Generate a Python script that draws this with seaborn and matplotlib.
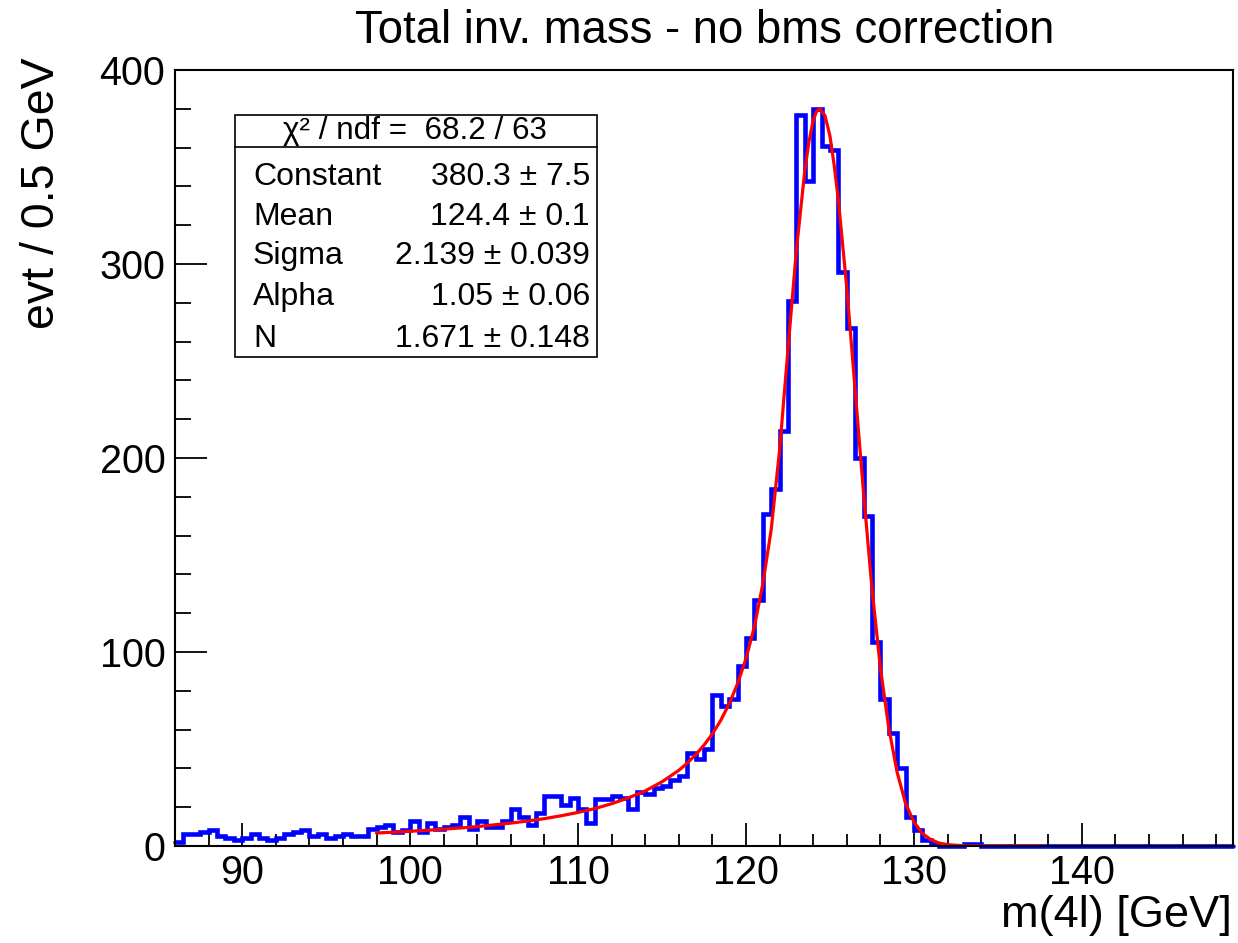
import numpy as np
import pandas as pd
import matplotlib
matplotlib.use("Agg")
import matplotlib.pyplot as plt
from matplotlib.ticker import MultipleLocator
from matplotlib.patches import Rectangle
from matplotlib.lines import Line2D
import seaborn as sns

# ---------------- data ----------------
hist_low = 86.0
hist_high = 149.0
bin_width = 0.5

counts = [
    2, 6, 6, 7, 8, 5, 4, 3, 4, 6,
    4, 3, 4, 6, 7, 8, 5, 6, 4, 5,
    6, 5, 5, 9, 10, 11, 7, 8, 13, 7,
    12, 9, 10, 11, 15, 9, 13, 10, 10, 13,
    19, 15, 11, 17, 26, 26, 21, 25, 19, 12,
    24, 24, 26, 25, 19, 28, 27, 30, 31, 34,
    36, 48, 45, 50, 78, 72, 76, 93, 107, 127,
    171, 184, 214, 281, 377, 343, 380, 361, 359, 296,
    267, 200, 170, 105, 76, 58, 40, 15, 8, 3,
    1, 0, 0, 0, 1, 1, 0, 0, 0, 0,
    0, 0, 0, 0, 0, 0, 0, 0, 0, 0,
    0, 0, 0, 0, 0, 0, 0, 0, 0, 0,
    0, 0, 0, 0, 0, 0,
]

fit_x = [98, 99, 100, 101, 102, 103, 104, 105, 106, 107, 108, 109, 110, 111,
         112, 113, 114, 115, 116, 116.5, 117, 117.5, 118, 118.5, 119, 119.5,
         120, 120.5, 121, 121.5, 122, 122.5, 123, 123.5, 123.75, 124, 124.2,
         124.4, 124.7, 125, 125.25, 125.5, 126, 126.5, 127, 127.5, 128, 128.5,
         129, 129.5, 130, 130.5, 131, 131.5, 132, 133, 134, 136, 137.7]
fit_y = [6.7, 7.1, 7.6, 8.1, 8.7, 9.3, 10.0, 10.9, 11.8, 12.9, 14.1, 15.6, 17.3, 19.3,
         21.8, 24.8, 28.4, 33.1, 39.0, 42.7, 47.0, 52.0, 57.8, 64.8, 73.3, 83.7,
         96.6, 113, 135, 163, 204, 256, 307, 348, 363, 374, 378.6,
         380, 376.6, 366, 351, 333, 288, 235, 182, 133, 92, 61,
         38, 22, 12.4, 6.5, 3.3, 1.5, 0.7, 0.1, 0, 0, 0]

title_text = "Total inv. mass - no bms correction"
x_title = "m(4l) [GeV]"
y_title = "evt / 0.5 GeV"

stats_header = "χ² / ndf =  68.2 / 63"
stat_names = ["Constant", "Mean", "Sigma", "Alpha", "N"]
stat_values = ["380.3 ± 7.5", "124.4 ± 0.1", "2.139 ± 0.039", "1.05 ± 0.06", "1.671 ± 0.148"]

# ---------------- style ----------------
sns.set_style("white")
plt.rcParams["font.family"] = ["Liberation Sans", "DejaVu Sans"]
plt.rcParams["text.color"] = "black"
plt.rcParams["axes.labelcolor"] = "black"
plt.rcParams["xtick.color"] = "black"
plt.rcParams["ytick.color"] = "black"

W, H = 1238, 943
fig = plt.figure(figsize=(W / 100, H / 100), dpi=100)
fig.patch.set_facecolor("white")

L, R, T, B = 175, 1233, 70, 846
ax = fig.add_axes([L / W, 1 - B / H, (R - L) / W, (B - T) / H])
ax.set_facecolor("white")

n_bins = len(counts)
centers = hist_low + bin_width * (np.arange(n_bins) + 0.5)
df = pd.DataFrame({"mass": centers, "evt": np.asarray(counts, dtype=float)})

sns.histplot(data=df, x="mass", weights="evt", binwidth=bin_width,
             binrange=(hist_low, hist_high), element="step",
             fill=False, color=(0, 0, 1), linewidth=3.3, ax=ax)
for ln in ax.lines:
    ln.set_clip_on(False)
    ln.set_solid_joinstyle("miter")

fit_df = pd.DataFrame({"x": fit_x, "y": fit_y})
sns.lineplot(data=fit_df, x="x", y="y", color=(1, 0, 0), linewidth=2.3, ax=ax,
             sort=False)

ax.set_xlim(hist_low, hist_high)
ax.set_ylim(0, 400)
ax.set_xlabel("")
ax.set_ylabel("")

ax.xaxis.set_major_locator(MultipleLocator(10))
ax.xaxis.set_minor_locator(MultipleLocator(2))
ax.yaxis.set_major_locator(MultipleLocator(100))
ax.yaxis.set_minor_locator(MultipleLocator(20))

ax.tick_params(axis="x", which="major", direction="in", length=16.5, width=1.3,
               labelsize=28.5, pad=6, top=False, bottom=True, colors="black")
ax.tick_params(axis="x", which="minor", direction="in", length=8.3, width=1.3,
               top=False, bottom=True, colors="black")
ax.tick_params(axis="y", which="major", direction="in", length=23, width=1.3,
               labelsize=28.5, pad=7, left=True, right=False, colors="black")
ax.tick_params(axis="y", which="minor", direction="in", length=11.5, width=1.3,
               left=True, right=False, colors="black")

for s in ax.spines.values():
    s.set_visible(True)
    s.set_color("black")
    s.set_linewidth(1.5)
    s.set_zorder(3)

# titles
fig.text(705 / W, 1 - 31 / H, title_text, ha="center", va="center", fontsize=32.8,
         color="black")
fig.text(1232 / W, 1 - 915 / H, x_title, ha="right", va="center", fontsize=32.5,
         color="black")
fig.text(42 / W, 1 - 57 / H, y_title, ha="center", va="top", rotation=90,
         fontsize=33.5, color="black")

# stats box
bx0, bx1, by0, by1, bsep = 235, 597, 115, 357, 147
fig.add_artist(Rectangle((bx0 / W, 1 - by1 / H), (bx1 - bx0) / W, (by1 - by0) / H,
                         transform=fig.transFigure, facecolor="white",
                         edgecolor="black", linewidth=1.2, zorder=5))
fig.add_artist(Line2D([bx0 / W, bx1 / W], [1 - bsep / H, 1 - bsep / H],
                      transform=fig.transFigure, color="black", linewidth=1.2, zorder=6))
fig.text(415 / W, 1 - 131 / H, stats_header, ha="center", va="center",
         fontsize=22.6, zorder=7, color="black")
row_y = [177, 217, 256, 297, 339]
for name, val, yy in zip(stat_names, stat_values, row_y):
    fig.text(253 / W, 1 - yy / H, name, ha="left", va="center", fontsize=23,
             zorder=7, color="black")
    fig.text(590 / W, 1 - yy / H, val, ha="right", va="center", fontsize=23,
             zorder=7, color="black")

fig.savefig("out.png", dpi=100, facecolor="white")
